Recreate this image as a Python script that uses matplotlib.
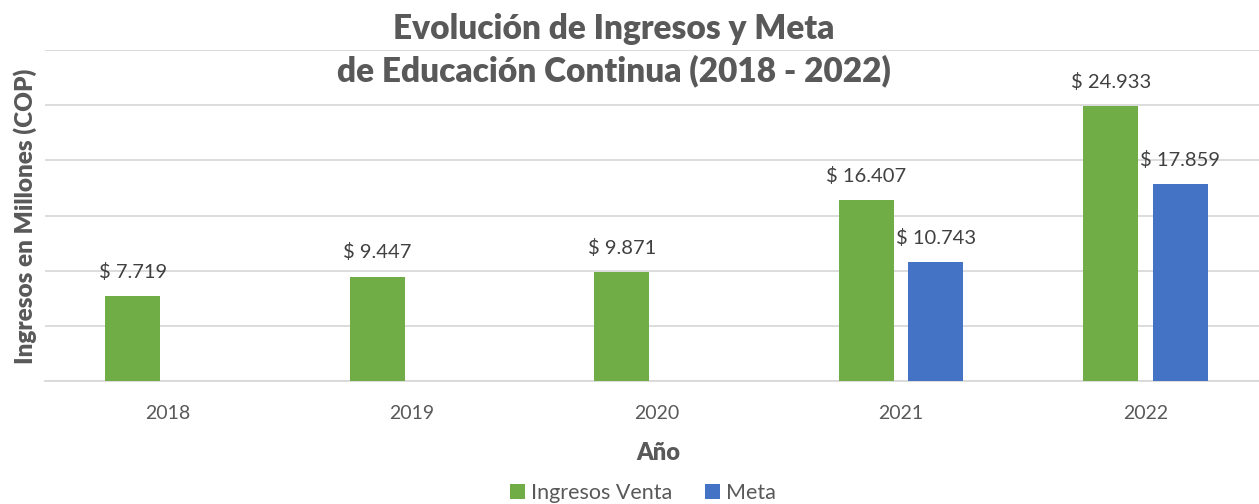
import matplotlib.pyplot as plt
import numpy as np

# Datos
anios = ['2018', '2019', '2020', '2021', '2022']
ingresos = [7719, 9447, 9871, 16407, 24933]
meta = [None, None, None, 10743, 17859]

plt.rcParams['font.family'] = ['Lato', 'DejaVu Sans']

fig = plt.figure(figsize=(12.59, 5.04), dpi=100)
ax = fig.add_axes([45 / 1259, 123 / 504, 1223 / 1259, 331 / 504])

x = np.arange(len(anios))
ancho = 0.225
desp = 0.142
verde = '#70AD47'
azul = '#4472C4'

x_meta = [x[i] for i in range(len(anios)) if meta[i] is not None]
v_meta = [m for m in meta if m is not None]

b1 = ax.bar(x - desp, ingresos, ancho, color=verde, label='Ingresos Venta', zorder=3)
b2 = ax.bar(np.array(x_meta) + desp, v_meta, ancho, color=azul, label='Meta', zorder=3)

def fmt(v):
    return '$ ' + f'{v:,}'.replace(',', '.')

for xi, v in zip(x - desp, ingresos):
    ax.annotate(fmt(v), (xi, v), xytext=(0, 11), textcoords='offset points',
                ha='center', va='bottom', fontsize=14.5, color='#404040')
for xi, v in zip(np.array(x_meta) + desp, v_meta):
    ax.annotate(fmt(v), (xi, v), xytext=(0, 11), textcoords='offset points',
                ha='center', va='bottom', fontsize=14.5, color='#404040')

ax.set_xlim(-0.5, len(anios) - 0.5)
ax.set_ylim(0, 30000)
ax.set_yticks(np.arange(0, 30001, 5000))
ax.set_yticklabels([])
ax.tick_params(axis='y', length=0)
ax.tick_params(axis='x', length=0, pad=17, labelsize=14, labelcolor='#595959')
ax.set_xticks(x)
ax.set_xticklabels(anios)
ax.grid(axis='y', color='#D9D9D9', linewidth=1.3, zorder=0)
for s in ['top', 'right', 'left']:
    ax.spines[s].set_visible(False)
ax.spines['bottom'].set_color('#D9D9D9')
ax.spines['bottom'].set_linewidth(1.3)

fig.text(658 / 1259, 1 - 453 / 504, 'Año', ha='center', va='center',
         fontsize=17, fontweight='heavy', color='#595959')
fig.text(25 / 1259, 1 - 216 / 504, 'Ingresos en Millones (COP)', rotation=90,
         ha='center', va='center', fontsize=17.5, fontweight='heavy', color='#595959')

fig.text(614 / 1259, 1 - 50 / 504, 'Evolución de Ingresos y Meta\nde Educación Continua (2018 - 2022)',
         ha='center', va='center', fontsize=24, fontweight='heavy', color='#595959',
         linespacing=1.35)

fig.legend(handles=[b1, b2], loc='center', bbox_to_anchor=(643 / 1259, 1 - 493 / 504),
           ncol=2, frameon=False, fontsize=15.5, handlelength=0.7, handleheight=0.7,
           columnspacing=1.5, handletextpad=0.3, labelcolor='#595959')

fig.savefig('out.png', dpi=100)
